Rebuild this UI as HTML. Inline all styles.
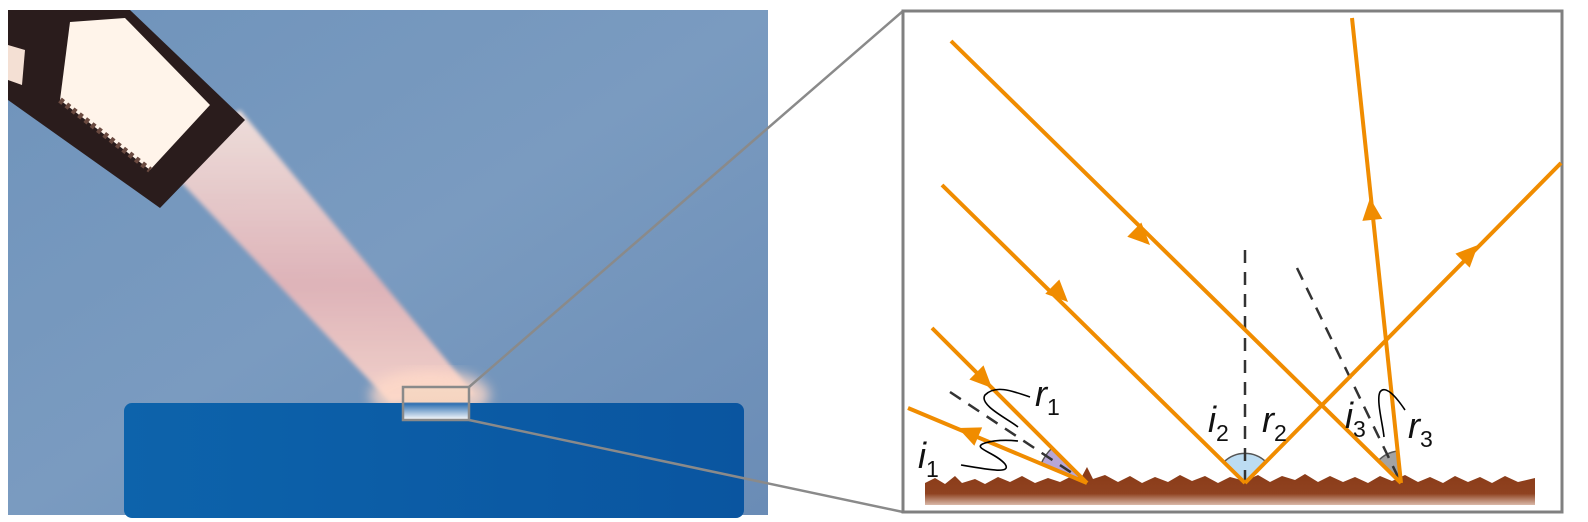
<!DOCTYPE html>
<html><head><meta charset="utf-8"><style>
html,body{margin:0;padding:0;background:#fff;}
svg{display:block;}
text{font-family:"Liberation Sans",sans-serif;font-style:italic;fill:#111;}
</style></head><body>
<svg width="1588" height="522" viewBox="0 0 1588 522">
<defs>
<linearGradient id="bg" x1="0" y1="0" x2="1" y2="1">
<stop offset="0" stop-color="#6f93bb"/><stop offset="0.5" stop-color="#7a9bc0"/><stop offset="1" stop-color="#6a8cb6"/>
</linearGradient>
<linearGradient id="blk" x1="0" y1="0" x2="1" y2="0">
<stop offset="0" stop-color="#0d63ab"/><stop offset="1" stop-color="#0a55a0"/>
</linearGradient>
<linearGradient id="beam" x1="0" y1="0" x2="0" y2="1">
<stop offset="0" stop-color="#fbe6de"/><stop offset="0.6" stop-color="#e9b6b8"/><stop offset="1" stop-color="#ffd8cc"/>
</linearGradient>
<linearGradient id="mini" x1="0" y1="0" x2="0" y2="1">
<stop offset="0" stop-color="#f7d8c4"/><stop offset="0.45" stop-color="#f5d4c0"/><stop offset="0.5" stop-color="#2b6db0"/><stop offset="1" stop-color="#ffffff"/>
</linearGradient>
<linearGradient id="gnd" x1="0" y1="0" x2="0" y2="1">
<stop offset="0" stop-color="#8a3a16"/><stop offset="0.7" stop-color="#8f4220"/><stop offset="1" stop-color="#d9b8a8"/>
</linearGradient>
<filter id="blur"><feGaussianBlur stdDeviation="6"/></filter>
<filter id="blur2"><feGaussianBlur stdDeviation="2"/></filter>
</defs>

<g>
<rect x="8" y="10" width="760" height="505" fill="url(#bg)"/>
<g>
<polygon points="160,160 240,110 475,395 390,402" fill="url(#beam)" opacity="0.9" filter="url(#blur2)"/>
<ellipse cx="430" cy="395" rx="60" ry="25" fill="#ffd9c8" opacity="0.8" filter="url(#blur)"/>
</g>
<g>
<polygon points="8,10 130,10 245,120 160,208 8,100" fill="#2a1c1c"/>
<polygon points="70,22 125,18 210,105 150,170 60,100" fill="#fff4ea"/>
<polygon points="8,45 25,50 22,85 8,80" fill="#f4e0d4"/>
<path d="M60,100 L150,170" stroke="#6a4a40" stroke-width="6" stroke-dasharray="4,4"/>
</g>
<rect x="124" y="403" width="620" height="115" rx="8" fill="url(#blk)"/>
<rect x="403" y="387" width="66" height="33" fill="url(#mini)" stroke="#8a8a8a" stroke-width="2.5"/>
</g>

<line x1="469" y1="387" x2="903" y2="11" stroke="#8a8a8a" stroke-width="2.5"/>
<line x1="469" y1="420" x2="903" y2="512" stroke="#8a8a8a" stroke-width="2.5"/>

<g>
<rect x="903" y="11" width="659" height="501" fill="#fff" stroke="#808080" stroke-width="3"/>

<path d="M1087,483 L1052,448 A50,50 0 0 0 1041,464 Z" fill="#b7a6d6" stroke="#555" stroke-width="1.5"/>
<path d="M1245,483 L1224,462 A30,30 0 0 1 1266,462 Z" fill="#bcdcf2" stroke="#555" stroke-width="1.5"/>
<path d="M1401,483 L1378,461 A32,32 0 0 1 1398,451 Z" fill="#a3a3a3" stroke="#555" stroke-width="1.5"/>

<line x1="1245" y1="250" x2="1245" y2="483" stroke="#333" stroke-width="2.5" stroke-dasharray="13,9"/>
<line x1="950" y1="392" x2="1087" y2="483" stroke="#333" stroke-width="2.5" stroke-dasharray="13,9"/>
<line x1="1297" y1="268" x2="1401" y2="483" stroke="#333" stroke-width="2.5" stroke-dasharray="13,9"/>

<path d="M925,483 L935,478 L945,484 L955,476 L962,483 L975,479 L985,484 L998,477 L1010,482 L1022,476 L1035,483 L1048,478 L1060,482 L1072,476 L1080,480 L1087,467 L1093,479 L1105,475 L1118,482 L1130,476 L1142,483 L1155,477 L1168,482 L1180,475 L1192,481 L1205,476 L1218,483 L1230,477 L1245,481 L1258,475 L1270,482 L1282,476 L1295,480 L1305,474 L1318,482 L1330,476 L1343,482 L1355,477 L1368,483 L1380,476 L1392,481 L1405,475 L1418,482 L1430,477 L1443,483 L1455,476 L1468,482 L1480,477 L1492,483 L1505,476 L1518,482 L1535,478 L1535,505 L925,505 Z" fill="url(#gnd)"/>

<g stroke="#f08c00" stroke-width="4" fill="none">
<line x1="951" y1="41" x2="1401" y2="483"/>
<line x1="942" y1="185" x2="1245" y2="483"/>
<line x1="932" y1="328" x2="1087" y2="483"/>
<line x1="1245" y1="483" x2="1561" y2="163"/>
<line x1="1401" y1="483" x2="1352" y2="18"/>
<line x1="1087" y1="483" x2="908" y2="408"/>
</g>
<g fill="#f08c00">
<polygon points="0,0 -22,-10 -22,10" transform="translate(1150,245) rotate(44.5)"/>
<polygon points="0,0 -22,-10 -22,10" transform="translate(1068,302) rotate(44.5)"/>
<polygon points="0,0 -22,-10 -22,10" transform="translate(992,388) rotate(45)"/>
<polygon points="0,0 -22,-10 -22,10" transform="translate(1478,245) rotate(-45.4)"/>
<polygon points="0,0 -22,-10 -22,10" transform="translate(1370,198) rotate(-96)"/>
<polygon points="0,0 -22,-10 -22,10" transform="translate(958,428) rotate(-157)"/>
</g>

<g stroke="#000" stroke-width="1.6" fill="none">
<path d="M1030,397 C1010,390 995,385 985,395 C978,405 1010,420 1018,427"/>
<path d="M961,465 C990,470 1012,474 1005,464 C995,452 970,448 985,443 C995,440 1008,440 1018,441"/>
<path d="M1405,410 C1395,395 1385,385 1380,392 C1376,400 1383,425 1384,437"/>
</g>

<g>
<text x="1035" y="406" font-size="36">r<tspan font-size="23" font-style="normal" dy="9">1</tspan></text>
<text x="918" y="468" font-size="36">i<tspan font-size="23" font-style="normal" dy="9">1</tspan></text>
<text x="1208" y="432" font-size="36">i<tspan font-size="23" font-style="normal" dy="9">2</tspan></text>
<text x="1262" y="432" font-size="36">r<tspan font-size="23" font-style="normal" dy="9">2</tspan></text>
<text x="1345" y="428" font-size="36">i<tspan font-size="23" font-style="normal" dy="9">3</tspan></text>
<text x="1408" y="438" font-size="36">r<tspan font-size="23" font-style="normal" dy="9">3</tspan></text>
</g>
</g>
</svg>
</body></html>
